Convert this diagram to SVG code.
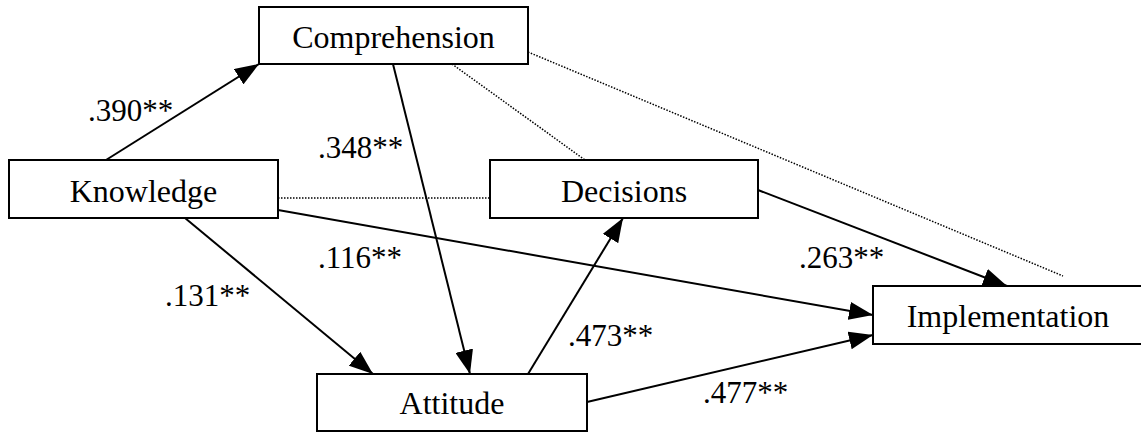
<svg xmlns="http://www.w3.org/2000/svg" width="1141" height="434" viewBox="0 0 1141 434">
<style>
.box{fill:#fff;stroke:#000;stroke-width:2}
.nt{font-family:"Times New Roman","Liberation Serif",Tinos,"DejaVu Serif",serif;font-size:32px;fill:#000;text-anchor:middle}
.lb{font-family:"Times New Roman","Liberation Serif",Tinos,"DejaVu Serif",serif;font-size:31px;fill:#000}
.sol{stroke:#000;stroke-width:2;fill:none}
.dot{stroke:#000;stroke-width:1.5;fill:none;stroke-dasharray:1.5 1.5}
</style>
<defs>
<marker id="ah" markerUnits="userSpaceOnUse" markerWidth="24" markerHeight="18" refX="24" refY="9" orient="auto" viewBox="0 0 24 18">
<path d="M0,0 L24,9 L0,18 z" fill="#000"/>
</marker>
</defs>
<rect width="1141" height="434" fill="#fff"/>
<g id="connectors">
<line class="dot" x1="278" y1="198" x2="490" y2="198"/>
<line class="dot" x1="452" y1="64" x2="585" y2="160"/>
<line class="dot" x1="528" y1="52" x2="1063" y2="276"/>
<line class="sol" x1="106" y1="160" x2="259" y2="64" marker-end="url(#ah)"/>
<line class="sol" x1="393" y1="64" x2="470" y2="374" stroke-width="1.6" marker-end="url(#ah)"/>
<line class="sol" x1="185" y1="218" x2="373" y2="374" marker-end="url(#ah)"/>
<line class="sol" x1="278" y1="210" x2="873" y2="315" marker-end="url(#ah)"/>
<line class="sol" x1="528" y1="374" x2="623" y2="218" marker-end="url(#ah)"/>
<line class="sol" x1="587" y1="402" x2="873" y2="335" marker-end="url(#ah)"/>
<line class="sol" x1="758" y1="190" x2="1007" y2="286" marker-end="url(#ah)"/>
</g>
<g id="labels">
<text class="lb" x="88" y="121">.390**</text>
<text class="lb" x="318" y="158">.348**</text>
<text class="lb" x="318" y="268">.116**</text>
<text class="lb" x="165" y="306">.131**</text>
<text class="lb" x="568" y="346">.473**</text>
<text class="lb" x="799" y="268">.263**</text>
<text class="lb" x="703" y="403">.477**</text>
</g>
<g id="comprehension">
<rect class="box" x="259" y="7" width="269" height="57"/>
<text class="nt" x="393.5" y="48">Comprehension</text>
</g>
<g id="knowledge">
<rect class="box" x="9" y="160" width="269" height="58"/>
<text class="nt" x="143.5" y="202">Knowledge</text>
</g>
<g id="decisions">
<rect class="box" x="490" y="160" width="268" height="58"/>
<text class="nt" x="624" y="202">Decisions</text>
</g>
<g id="implementation">
<rect class="box" x="873" y="286" width="270" height="58"/>
<text class="nt" x="1008" y="327">Implementation</text>
</g>
<g id="attitude">
<rect class="box" x="317" y="374" width="270" height="57"/>
<text class="nt" x="452" y="414">Attitude</text>
</g>
</svg>
